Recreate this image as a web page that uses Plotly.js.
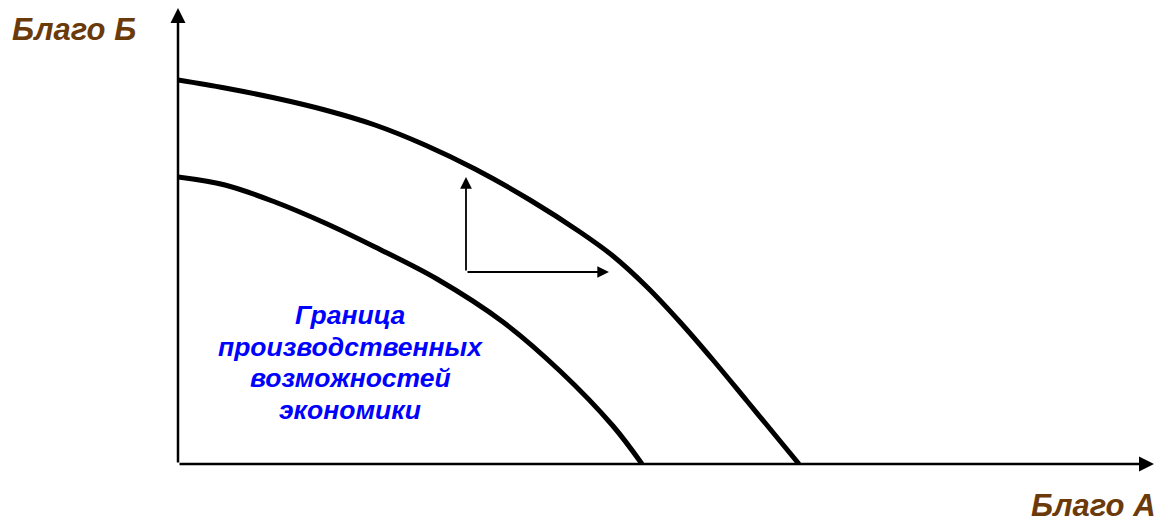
<!DOCTYPE html>
<html>
<head>
<meta charset="utf-8">
<script src="https://cdn.plot.ly/plotly-3.0.1.min.js"></script>
<style>html,body{margin:0;padding:0;background:#fff;}#chart{width:1162px;height:524px;}</style>
</head>
<body>
<div id="chart"></div>
<script>
// Outer production possibility frontier (after growth)
const outerX = [0, 47, 97, 147, 197, 247, 297, 352, 402, 435, 469, 502, 535, 569, 602, 621];
const outerY = [384, 376, 366, 354, 339, 319, 295, 264, 232, 208, 177, 142, 104, 63, 23, 0];
// Inner production possibility frontier
const innerX = [0, 47, 97, 147, 197, 259, 325, 382, 435, 464];
const innerY = [287, 279, 262, 241, 217, 185, 142, 93, 38, 0];
// Axis extents
const axisXMax = 976;
const axisYMax = 456;
// Shift arrow (corner, up tip, right tip)
const shiftCorner = [288, 192];
const shiftUpTip = [288, 287];
const shiftRightTip = [431, 192];
// Labels
const labelY = 'Благо Б';
const labelX = 'Благо А';
const frontierLines = ['Граница', 'производственных', 'возможностей', 'экономики'];
const frontierLineY = [149, 117, 86, 54];

const lineStyle = {color: '#000', width: 5, shape: 'spline', smoothing: 1.0};
const traces = [
  {x: outerX, y: outerY, mode: 'lines', line: lineStyle, hoverinfo: 'skip'},
  {x: innerX, y: innerY, mode: 'lines', line: lineStyle, hoverinfo: 'skip'}
];

const brownFont = {family: 'Liberation Sans, Arial, sans-serif', size: 31, color: '#6b3a0a', weight: 'bold', style: 'italic'};
const blueFont = {family: 'Liberation Sans, Arial, sans-serif', size: 26.5, color: '#0000ff', weight: 'bold', style: 'italic'};
const arrowBase = {xref: 'x', yref: 'y', axref: 'x', ayref: 'y', text: '', showarrow: true, arrowhead: 2, arrowcolor: '#000', standoff: 0};
const annotations = [
  // axes
  Object.assign({x: axisXMax, y: 0, ax: 0, ay: 0, arrowsize: 1.2, arrowwidth: 2.5}, arrowBase),
  Object.assign({x: 0, y: axisYMax, ax: 0, ay: 0, arrowsize: 1.2, arrowwidth: 2.5}, arrowBase),
  // shift arrows
  Object.assign({x: shiftUpTip[0], y: shiftUpTip[1], ax: shiftCorner[0], ay: shiftCorner[1], arrowsize: 1.3, arrowwidth: 1.8}, arrowBase),
  Object.assign({x: shiftRightTip[0], y: shiftRightTip[1], ax: shiftCorner[0], ay: shiftCorner[1], arrowsize: 1.3, arrowwidth: 1.8}, arrowBase),
  // axis labels (paper coords, outside the plot area)
  {x: -0.1707, y: 0.9518, xref: 'paper', yref: 'paper', xanchor: 'left', yanchor: 'middle', text: labelY, showarrow: false, font: brownFont},
  {x: 0.9959, y: -0.0921, xref: 'paper', yref: 'paper', xanchor: 'right', yanchor: 'middle', text: labelX, showarrow: false, font: brownFont}
];
frontierLines.forEach(function (t, i) {
  annotations.push({x: 172, y: frontierLineY[i], xref: 'x', yref: 'y', xanchor: 'center', yanchor: 'middle',
    text: t, showarrow: false, font: blueFont});
});

const hidden = {showgrid: false, zeroline: false, showline: false, showticklabels: false, ticks: '', fixedrange: true};
const layout = {
  width: 1162, height: 524,
  margin: {l: 178, r: 0, t: 8, b: 60, pad: 0},
  paper_bgcolor: '#fff', plot_bgcolor: '#fff',
  showlegend: false,
  xaxis: Object.assign({range: [0, 984]}, hidden),
  yaxis: Object.assign({range: [0, 456]}, hidden),
  annotations: annotations
};
Plotly.newPlot('chart', traces, layout, {displayModeBar: false, staticPlot: true});
</script>
</body>
</html>
